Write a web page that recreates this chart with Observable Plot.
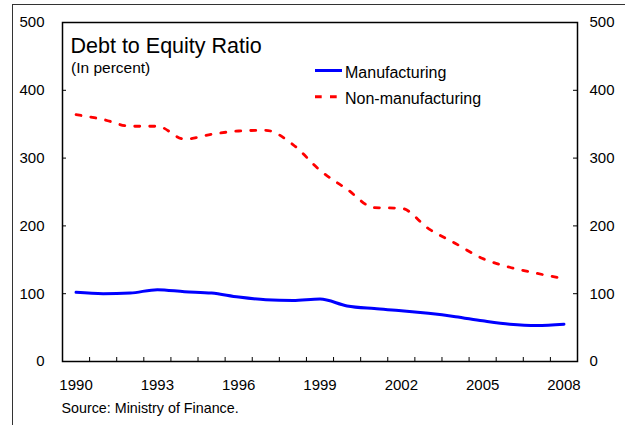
<!DOCTYPE html>
<html>
<head>
<meta charset="utf-8">
<script src="https://cdn.jsdelivr.net/npm/d3@7"></script>
<script src="https://cdn.jsdelivr.net/npm/@observablehq/plot@0.6"></script>
<style>
  html, body { margin: 0; padding: 0; background: #fff; }
  #wrap { position: relative; width: 625px; height: 425px; overflow: hidden; font-family: "Liberation Sans", Arial, sans-serif; }
  #border { position: absolute; left: 12px; top: 4px; width: 640px; height: 440px; border-top: 1px solid #333; border-left: 1px solid #333; pointer-events: none; }
  #legend { position: absolute; left: 0; top: 0; pointer-events: none; }
</style>
</head>
<body>
<div id="wrap"><div id="border"></div></div>
<script>
const years = [1990, 1991, 1992, 1993, 1994, 1995, 1996, 1997, 1998, 1999, 2000, 2001, 2002, 2003, 2004, 2005, 2006, 2007, 2008];
const manufacturing = [102, 100, 101, 106, 103, 101, 95, 91, 90, 92, 82, 78, 75, 71, 66, 60, 55, 53, 55];
const nonManufacturing = [364, 357, 347, 347, 328, 335, 340, 341, 320, 282, 254, 227, 226, 196, 174, 152, 139, 130, 122];
const yTicks = [0, 100, 200, 300, 400, 500];
const xTickLabels = [1990, 1993, 1996, 1999, 2002, 2005, 2008];
const seriesNames = ["Manufacturing", "Non-manufacturing"];
const title = "Debt to Equity Ratio";
const subtitle = "(In percent)";
const source = "Source: Ministry of Finance.";

const W = 625, H = 425;
const mL = 62, mR = 48, mT = 22, mB = 64;
const plotW = W - mL - mR, plotH = H - mT - mB;

const rows = years.flatMap((yr, i) => [
  {year: yr, value: manufacturing[i], series: seriesNames[0]},
  {year: yr, value: nonManufacturing[i], series: seriesNames[1]}
]);
const boundaries = years.slice(1).map(y => y - 0.5);

const chart = Plot.plot({
  width: W, height: H,
  marginLeft: mL, marginRight: mR, marginTop: mT, marginBottom: mB,
  style: {fontFamily: '"Liberation Sans", Arial, sans-serif', fontSize: "15px", background: "transparent", color: "#000"},
  x: {type: "linear", domain: [years[0] - 0.5, years[years.length - 1] + 0.5]},
  y: {domain: [0, 500]},
  marks: [
    // inward ticks
    Plot.ruleY(yTicks, {y: d => d, insetRight: plotW - 4, stroke: "#000", strokeWidth: 1}),
    Plot.ruleY(yTicks, {y: d => d, insetLeft: plotW - 4, stroke: "#000", strokeWidth: 1}),
    Plot.ruleX(boundaries, {x: d => d, insetTop: plotH - 4, stroke: "#000", strokeWidth: 1}),
    // axis labels
    Plot.axisY(yTicks, {anchor: "left", tickSize: 0, tickPadding: 18, label: null, fontSize: 15}),
    Plot.axisY(yTicks, {anchor: "right", tickSize: 0, tickPadding: 12, label: null, fontSize: 15}),
    Plot.axisX(xTickLabels, {anchor: "bottom", tickSize: 0, tickPadding: 18, label: null, fontSize: 15, tickFormat: d => String(d)}),
    // series
    Plot.line(rows.filter(d => d.series === seriesNames[1]), {x: "year", y: "value", stroke: "#ff0000", strokeWidth: 2.8, strokeDasharray: "5,10", curve: "monotone-x"}),
    Plot.line(rows.filter(d => d.series === seriesNames[0]), {x: "year", y: "value", stroke: "#0000ff", strokeWidth: 3, curve: "monotone-x"}),
    Plot.frame({stroke: "#000", strokeWidth: 1.5}),
    // title / subtitle / source
    Plot.text([title], {frameAnchor: "top-left", dx: 8, dy: 30, text: d => d, fontSize: 21.5, textAnchor: "start", lineAnchor: "bottom", fill: "#000"}),
    Plot.text([subtitle], {frameAnchor: "top-left", dx: 8.5, dy: 50, text: d => d, fontSize: 15.5, textAnchor: "start", lineAnchor: "bottom", fill: "#000"}),
    Plot.text([source], {frameAnchor: "bottom-left", dx: -1, dy: 51, text: d => d, fontSize: 14.3, textAnchor: "start", lineAnchor: "bottom", fill: "#000"})
  ]
});
document.getElementById("wrap").appendChild(chart);

// legend overlay
const ns = "http://www.w3.org/2000/svg";
const leg = document.createElementNS(ns, "svg");
leg.setAttribute("id", "legend");
leg.setAttribute("width", W);
leg.setAttribute("height", H);
const legendItems = [
  {name: seriesNames[0], color: "#0000ff", dash: null, y: 70.5, x2: 342},
  {name: seriesNames[1], color: "#ff0000", dash: "6.7,8.3", y: 96.7, x2: 337}
];
legendItems.forEach(it => {
  const l = document.createElementNS(ns, "line");
  l.setAttribute("x1", 315); l.setAttribute("x2", it.x2);
  l.setAttribute("y1", it.y); l.setAttribute("y2", it.y);
  l.setAttribute("stroke", it.color); l.setAttribute("stroke-width", 3);
  if (it.dash) l.setAttribute("stroke-dasharray", it.dash);
  leg.appendChild(l);
  const t = document.createElementNS(ns, "text");
  t.setAttribute("x", 345); t.setAttribute("y", it.y + 7.2);
  t.setAttribute("font-size", 16);
  t.setAttribute("font-family", '"Liberation Sans", Arial, sans-serif');
  t.setAttribute("fill", "#000");
  t.textContent = it.name;
  leg.appendChild(t);
});
document.getElementById("wrap").appendChild(leg);
</script>
</body>
</html>
